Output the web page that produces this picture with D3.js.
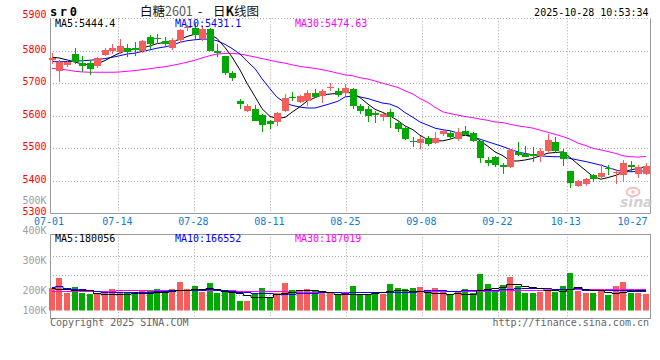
<!DOCTYPE html>
<html>
<head>
<meta charset="utf-8">
<script src="https://d3js.org/d3.v7.min.js"></script>
<style>
  body, html {
    margin: 0;
    padding: 0;
    background: #fff;
  }
  svg { display: block; }
  text {
    font-family: "DejaVu Sans Mono", monospace;
    font-size: 10px;
  }
</style>
</head>
<body>
<svg width="660" height="360"></svg>
<script>

  // trading days shown (07-01 .. 10-28)
  var dates = [
    '07-01','07-02','07-03','07-04','07-07','07-08','07-09','07-10','07-11','07-14',
    '07-15','07-16','07-17','07-18','07-21','07-22','07-23','07-24','07-25','07-28',
    '07-29','07-30','07-31','08-01','08-04','08-05','08-06','08-07','08-08','08-11',
    '08-12','08-13','08-14','08-15','08-18','08-19','08-20','08-21','08-22','08-25',
    '08-26','08-27','08-28','08-29','09-01','09-02','09-03','09-04','09-05','09-08',
    '09-09','09-10','09-11','09-12','09-15','09-16','09-17','09-18','09-19','09-22',
    '09-23','09-24','09-25','09-26','09-29','09-30','10-09','10-10','10-13','10-14',
    '10-15','10-16','10-17','10-20','10-21','10-22','10-23','10-24','10-27','10-28'
  ];

  var open = [
    5771,5737,5757,5790,5762,5762,5752,5788,5800,5797,
    5810,5810,5798,5841,5839,5829,5808,5833,5870,5869,
    5836,5866,5800,5783,5731,5647,5616,5622,5603,5585,
    5581,5615,5659,5642,5645,5669,5661,5685,5677,5669,
    5684,5631,5620,5608,5595,5612,5579,5564,5523,5517,
    5533,5515,5544,5547,5530,5554,5546,5523,5464,5472,
    5449,5441,5490,5484,5484,5477,5492,5520,5489,5429,
    5384,5390,5417,5413,5438,5423,5417,5449,5420,5422
  ];
  var high = [
    5793,5771,5771,5808,5785,5771,5782,5810,5820,5836,
    5820,5826,5833,5848,5853,5841,5839,5866,5880,5884,
    5876,5871,5822,5785,5739,5652,5637,5632,5607,5587,
    5613,5667,5672,5664,5678,5683,5682,5700,5687,5697,
    5687,5636,5629,5615,5610,5620,5584,5566,5536,5538,
    5538,5549,5557,5554,5564,5569,5549,5523,5474,5477,
    5456,5497,5518,5508,5503,5500,5544,5536,5499,5431,
    5402,5410,5420,5451,5449,5433,5464,5461,5448,5456
  ];
  var low = [
    5759,5703,5749,5759,5736,5727,5747,5783,5790,5790,
    5782,5785,5792,5805,5822,5812,5803,5825,5862,5837,
    5831,5798,5780,5727,5706,5622,5611,5583,5550,5560,
    5570,5613,5647,5639,5629,5654,5639,5677,5659,5661,
    5620,5605,5581,5579,5584,5561,5551,5526,5505,5497,
    5507,5513,5538,5528,5523,5538,5518,5456,5446,5441,
    5420,5438,5477,5472,5459,5459,5487,5487,5446,5377,
    5382,5385,5395,5410,5417,5390,5395,5431,5410,5418
  ];
  var close = [
    5778,5767,5766,5766,5752,5744,5778,5803,5810,5815,
    5795,5803,5829,5822,5837,5820,5833,5863,5873,5849,
    5866,5800,5793,5731,5716,5637,5629,5585,5572,5575,
    5610,5656,5656,5662,5669,5657,5675,5688,5665,5687,
    5629,5615,5598,5602,5607,5595,5559,5530,5518,5528,
    5513,5533,5554,5536,5549,5541,5523,5469,5456,5449,
    5441,5495,5480,5474,5477,5492,5526,5492,5467,5392,
    5400,5407,5407,5425,5436,5428,5456,5441,5443,5446
  ];

  var ma5 = [
    5780,5778,5772,5765,5760,5757,5760,5770,5782,5794,
    5801,5806,5809,5815,5822,5826,5829,5835,5844,5851,
    5854,5850,5838,5810,5781,5741,5700,5659,5622,5598,
    5592,5595,5611,5628,5645,5656,5664,5667,5669,5672,
    5670,5656,5636,5620,5610,5600,5585,5569,5557,5540,
    5526,5523,5523,5528,5536,5540,5538,5523,5506,5489,
    5477,5461,5461,5464,5469,5477,5485,5487,5489,5472,
    5451,5431,5413,5405,5410,5417,5426,5434,5438,5444
  ];
  var ma10 = [
    5767,5766,5767,5769,5769,5771,5773,5776,5780,5785,
    5790,5793,5798,5803,5808,5812,5817,5826,5831,5834,
    5836,5836,5831,5820,5807,5790,5768,5745,5714,5683,
    5657,5641,5632,5627,5624,5624,5630,5637,5645,5658,
    5661,5658,5653,5646,5639,5636,5626,5610,5595,5581,
    5571,5562,5557,5554,5547,5540,5535,5528,5520,5513,
    5505,5497,5489,5484,5480,5477,5475,5474,5474,5469,
    5464,5459,5454,5448,5441,5433,5428,5428,5429,5431
  ];
  var ma30 = [
    5746,5744,5741,5737,5735,5734,5734,5734,5734,5735,
    5737,5739,5742,5745,5748,5751,5755,5760,5765,5771,
    5778,5785,5790,5792,5792,5790,5786,5781,5776,5771,
    5766,5762,5757,5752,5749,5746,5742,5737,5731,5726,
    5723,5717,5713,5707,5700,5694,5687,5677,5667,5653,
    5641,5626,5612,5607,5602,5598,5594,5590,5586,5581,
    5579,5574,5569,5566,5562,5556,5549,5543,5536,5528,
    5516,5508,5500,5495,5490,5484,5477,5474,5473,5475
  ];

  // volume, in thousands
  var volume = [
    195,282,151,201,151,140,146,166,184,160,
    160,146,166,175,184,160,184,245,184,210,
    160,236,151,175,151,87,87,140,192,116,
    151,236,175,175,184,175,160,160,146,140,
    210,146,146,146,146,227,192,184,192,201,
    160,192,160,140,160,184,151,315,227,175,
    219,288,210,157,149,160,195,160,210,323,
    166,149,157,175,131,210,245,149,157,140
  ];
  var volMa5 = [
    195,189,189,181,181,175,154,146,146,146,
    146,151,151,154,160,160,169,175,175,184,
    189,195,184,169,160,151,131,117,117,122,
    140,151,160,175,181,175,166,160,146,140,
    146,146,146,151,160,166,175,175,169,166,
    160,151,151,146,151,146,146,175,189,198,
    204,227,233,218,204,195,181,175,169,189,
    204,189,181,175,160,151,160,169,175,180
  ];
  var volMa10 = [
    201,210,195,186,186,175,169,160,160,160,
    160,160,160,163,169,169,175,175,175,175,
    175,184,175,175,169,160,160,151,151,151,
    146,146,146,151,151,157,160,160,160,154,
    160,160,160,160,160,160,160,160,160,166,
    175,175,175,169,169,175,175,175,175,175,
    189,189,198,198,198,198,198,189,189,189,
    198,181,181,181,175,175,175,175,169,167
  ];
  var volMa30 = [
    169,170,171,172,172,173,173,174,174,175,
    175,175,176,176,176,177,177,177,177,177,
    177,176,176,175,175,174,172,170,168,167,
    166,166,165,165,164,164,163,163,162,162,
    161,161,161,162,163,164,164,165,165,166,
    166,167,167,168,168,169,169,171,172,173,
    175,176,178,179,180,181,182,183,184,185,
    185,186,186,186,187,187,187,187,187,187
  ];

  var priceTicks = [5300, 5400, 5500, 5600, 5700, 5800, 5900];
  var volTicks = [500, 400, 300, 200, 100];
  var dateTicks = ['07-01','07-14','07-28','08-11','08-25','09-08','09-22','10-13','10-27'];

  var maText = ['MA5:5444.4', 'MA10:5431.1', 'MA30:5474.63'];
  var volMaText = ['MA5:180056', 'MA10:166552', 'MA30:187019'];
  var maColors = ['#000', '#0000ff', '#ff00ff'];

  var RED = '#f65d5d', GREEN = '#00a800', GRID = '#aaa', FRAME = '#999';

  var svg = d3.select('svg');

  // layout
  var L = 50, R = 649.5;
  var mainTop = 18.3, mainBot = 213.3;
  var volTop = 234.3, volBot = 318, volBase = 310.5;

  var idx = d3.range(dates.length);
  var x = d3.scaleBand().domain(idx).range([48.2, 649.4]);
  var cx = function (i) { return Math.round(x(i) + x.bandwidth() / 2); };
  // sina draws the date grid with a slightly wider step than the candles
  var gridX = d3.scaleLinear().domain([0, dates.length]).range([L, L + 7.6 * dates.length]);
  var y = d3.scaleLinear().domain([5300, 5900]).range([mainBot, mainTop]);
  var yv = d3.scaleLinear().domain([0, 665]).range([volBase, volTop]);
  var volLabelY = d3.scaleLinear().domain([200, 500]).range([290.5, 200.5]);

  var crisp = function (v) { return Math.round(v) + 0.5; };

  // ---------- grids ----------
  var grid = svg.append('g')
    .attr('stroke', GRID)
    .attr('stroke-dasharray', '1,2')
    .attr('fill', 'none');

  grid.selectAll('.hp')
    .data(priceTicks.filter(function (d) { return d > 5300; }))
    .enter().append('line')
      .attr('x1', L).attr('x2', R)
      .attr('y1', function (d) { return crisp(y(d)); })
      .attr('y2', function (d) { return crisp(y(d)); });

  var gridIdx = dateTicks.slice(1, -1).map(function (d) { return dates.indexOf(d); });

  grid.selectAll('.vp')
    .data(gridIdx)
    .enter().append('line')
      .attr('x1', function (i) { return crisp(gridX(i)); })
      .attr('x2', function (i) { return crisp(gridX(i)); })
      .attr('y1', mainTop).attr('y2', mainBot);

  grid.selectAll('.vv')
    .data(gridIdx)
    .enter().append('line')
      .attr('x1', function (i) { return crisp(gridX(i)); })
      .attr('x2', function (i) { return crisp(gridX(i)); })
      .attr('y1', volTop).attr('y2', volBot);

  grid.selectAll('.hv')
    .data([0, 1, 2])
    .enter().append('line')
      .attr('x1', L).attr('x2', R)
      .attr('y1', function (k) { return crisp(255.7 + k * 19.65); })
      .attr('y2', function (k) { return crisp(255.7 + k * 19.65); });

  // ---------- frames ----------
  var frame = svg.append('g').attr('stroke', FRAME).attr('fill', 'none');
  frame.append('path')
    .attr('d', 'M' + crisp(L) + ',' + mainTop + 'V' + crisp(mainBot) + 'H' + crisp(R) + 'V' + mainTop);
  frame.append('rect')
    .attr('x', crisp(L)).attr('y', crisp(volTop))
    .attr('width', Math.round(R) - Math.round(L))
    .attr('height', Math.round(volBot) - Math.round(volTop));

  // ---------- moving averages (price) ----------
  var line = d3.line()
    .x(function (d, i) { return cx(i); })
    .y(function (d) { return y(d); });

  [ma30, ma10, ma5].forEach(function (s, k) {
    svg.append('path')
      .datum(s)
      .attr('fill', 'none')
      .attr('stroke', maColors[2 - k])
      .attr('stroke-width', 1)
      .attr('d', line);
  });

  // ---------- candles ----------
  var candle = svg.append('g').selectAll('g')
    .data(idx)
    .enter().append('g')
      .attr('fill', function (i) { return close[i] >= open[i] ? RED : GREEN; })
      .attr('stroke', 'none');

  candle.append('rect')
    .attr('x', function (i) { return cx(i); })
    .attr('width', 1)
    .attr('y', function (i) { return Math.round(y(high[i])); })
    .attr('height', function (i) { return Math.max(1, Math.round(y(low[i])) - Math.round(y(high[i]))); });

  candle.append('rect')
    .attr('x', function (i) { return cx(i) - 3; })
    .attr('width', 7)
    .attr('y', function (i) { return Math.round(y(Math.max(open[i], close[i]))); })
    .attr('height', function (i) {
      return Math.max(1, Math.round(y(Math.min(open[i], close[i]))) - Math.round(y(Math.max(open[i], close[i]))));
    });

  // ---------- volume ----------
  svg.append('g').selectAll('rect')
    .data(idx)
    .enter().append('rect')
      .attr('fill', function (i) { return close[i] >= open[i] ? RED : GREEN; })
      .attr('x', function (i) { return cx(i) - 3; })
      .attr('width', 6)
      .attr('y', function (i) { return Math.round(yv(volume[i])); })
      .attr('height', function (i) { return volBase - Math.round(yv(volume[i])); });

  var vline = d3.line()
    .curve(d3.curveStep)
    .x(function (d, i) { return cx(i); })
    .y(function (d) { return Math.round(yv(d)) + 0.5; });

  [volMa30, volMa10, volMa5].forEach(function (s, k) {
    svg.append('path')
      .datum(s)
      .attr('fill', 'none')
      .attr('stroke', maColors[2 - k])
      .attr('stroke-width', 1)
      .attr('d', vline);
  });

  // ---------- axis labels ----------
  svg.append('g').selectAll('text')
    .data(priceTicks)
    .enter().append('text')
      .attr('x', 46.5)
      .attr('y', function (d) { return Math.min(y(d) + 2, y(d) < 20 ? 18 : 999); })
      .attr('text-anchor', 'end')
      .attr('fill', '#f00')
      .text(function (d) { return d; });

  svg.append('g').selectAll('text')
    .data(volTicks)
    .enter().append('text')
      .attr('x', 46.5)
      .attr('y', function (d) { return Math.min(volLabelY(d), 310.5) + 3.7; })
      .attr('text-anchor', 'end')
      .attr('fill', '#a0a0a0')
      .text(function (d) { return d + 'K'; });

  svg.append('g').selectAll('text')
    .data(dateTicks)
    .enter().append('text')
      .attr('x', function (d) {
        return Math.max(35 + 15, Math.min(gridX(dates.indexOf(d)), 648.5 - 15)) - 1;
      })
      .attr('y', 224.8)
      .attr('text-anchor', 'middle')
      .attr('fill', '#0f7bd3')
      .text(function (d) { return d; });

  // ---------- legends ----------
  var legX = [55, 175, 295];
  svg.append('g').selectAll('text')
    .data(maText)
    .enter().append('text')
      .attr('x', function (d, i) { return legX[i]; })
      .attr('y', 27.3)
      .attr('fill', function (d, i) { return maColors[i]; })
      .text(function (d) { return d; });

  svg.append('g').selectAll('text')
    .data(volMaText)
    .enter().append('text')
      .attr('x', function (d, i) { return legX[i]; })
      .attr('y', 241.8)
      .attr('fill', function (d, i) { return maColors[i]; })
      .text(function (d) { return d; });

  // ---------- header / footer ----------
  svg.append('text')
    .attr('x', 50).attr('y', 16.2)
    .style('font-size', '12px')
    .style('font-weight', 'bold')
    .style('letter-spacing', '2.6px')
    .text('sr0');

  var title = svg.append('text')
    .attr('y', 15.5)
    .style('font-family', '"Noto Sans CJK SC", sans-serif')
    .style('font-size', '12.5px')
    .attr('fill', '#111');
  title.append('tspan').attr('x', 140).text('白糖');
  title.append('tspan').attr('fill', '#555').text('2601');
  title.append('tspan').attr('x', 198).text('-');
  title.append('tspan').attr('x', 213).text('日');
  title.append('tspan').style('font-weight', 'bold').text('K');
  title.append('tspan').text('线图');

  svg.append('text')
    .attr('x', 648.5).attr('y', 15.8)
    .attr('text-anchor', 'end')
    .attr('fill', '#000')
    .text('2025-10-28 10:53:34');

  svg.append('text')
    .attr('x', 50).attr('y', 326.3)
    .attr('fill', '#666')
    .text('Copyright 2025 SINA.COM');

  svg.append('text')
    .attr('x', 649).attr('y', 326.3)
    .attr('text-anchor', 'end')
    .attr('fill', '#666')
    .text('http://finance.sina.com.cn');

  // sina watermark
  var logo = svg.append('g').attr('opacity', 0.75);
  logo.append('ellipse')
    .attr('cx', 633).attr('cy', 192)
    .attr('rx', 6.5).attr('ry', 4.2)
    .attr('fill', 'none')
    .attr('stroke', '#f2a9a9')
    .attr('stroke-width', 2);
  logo.append('circle')
    .attr('cx', 633).attr('cy', 192).attr('r', 1.8)
    .attr('fill', '#f2a9a9');
  logo.append('text')
    .attr('x', 620).attr('y', 206.5)
    .style('font-family', '"DejaVu Sans", sans-serif')
    .style('font-size', '14px')
    .style('font-style', 'italic')
    .style('font-weight', 'bold')
    .attr('fill', '#c4c4c4')
    .text('sina');

</script>
</body>
</html>
